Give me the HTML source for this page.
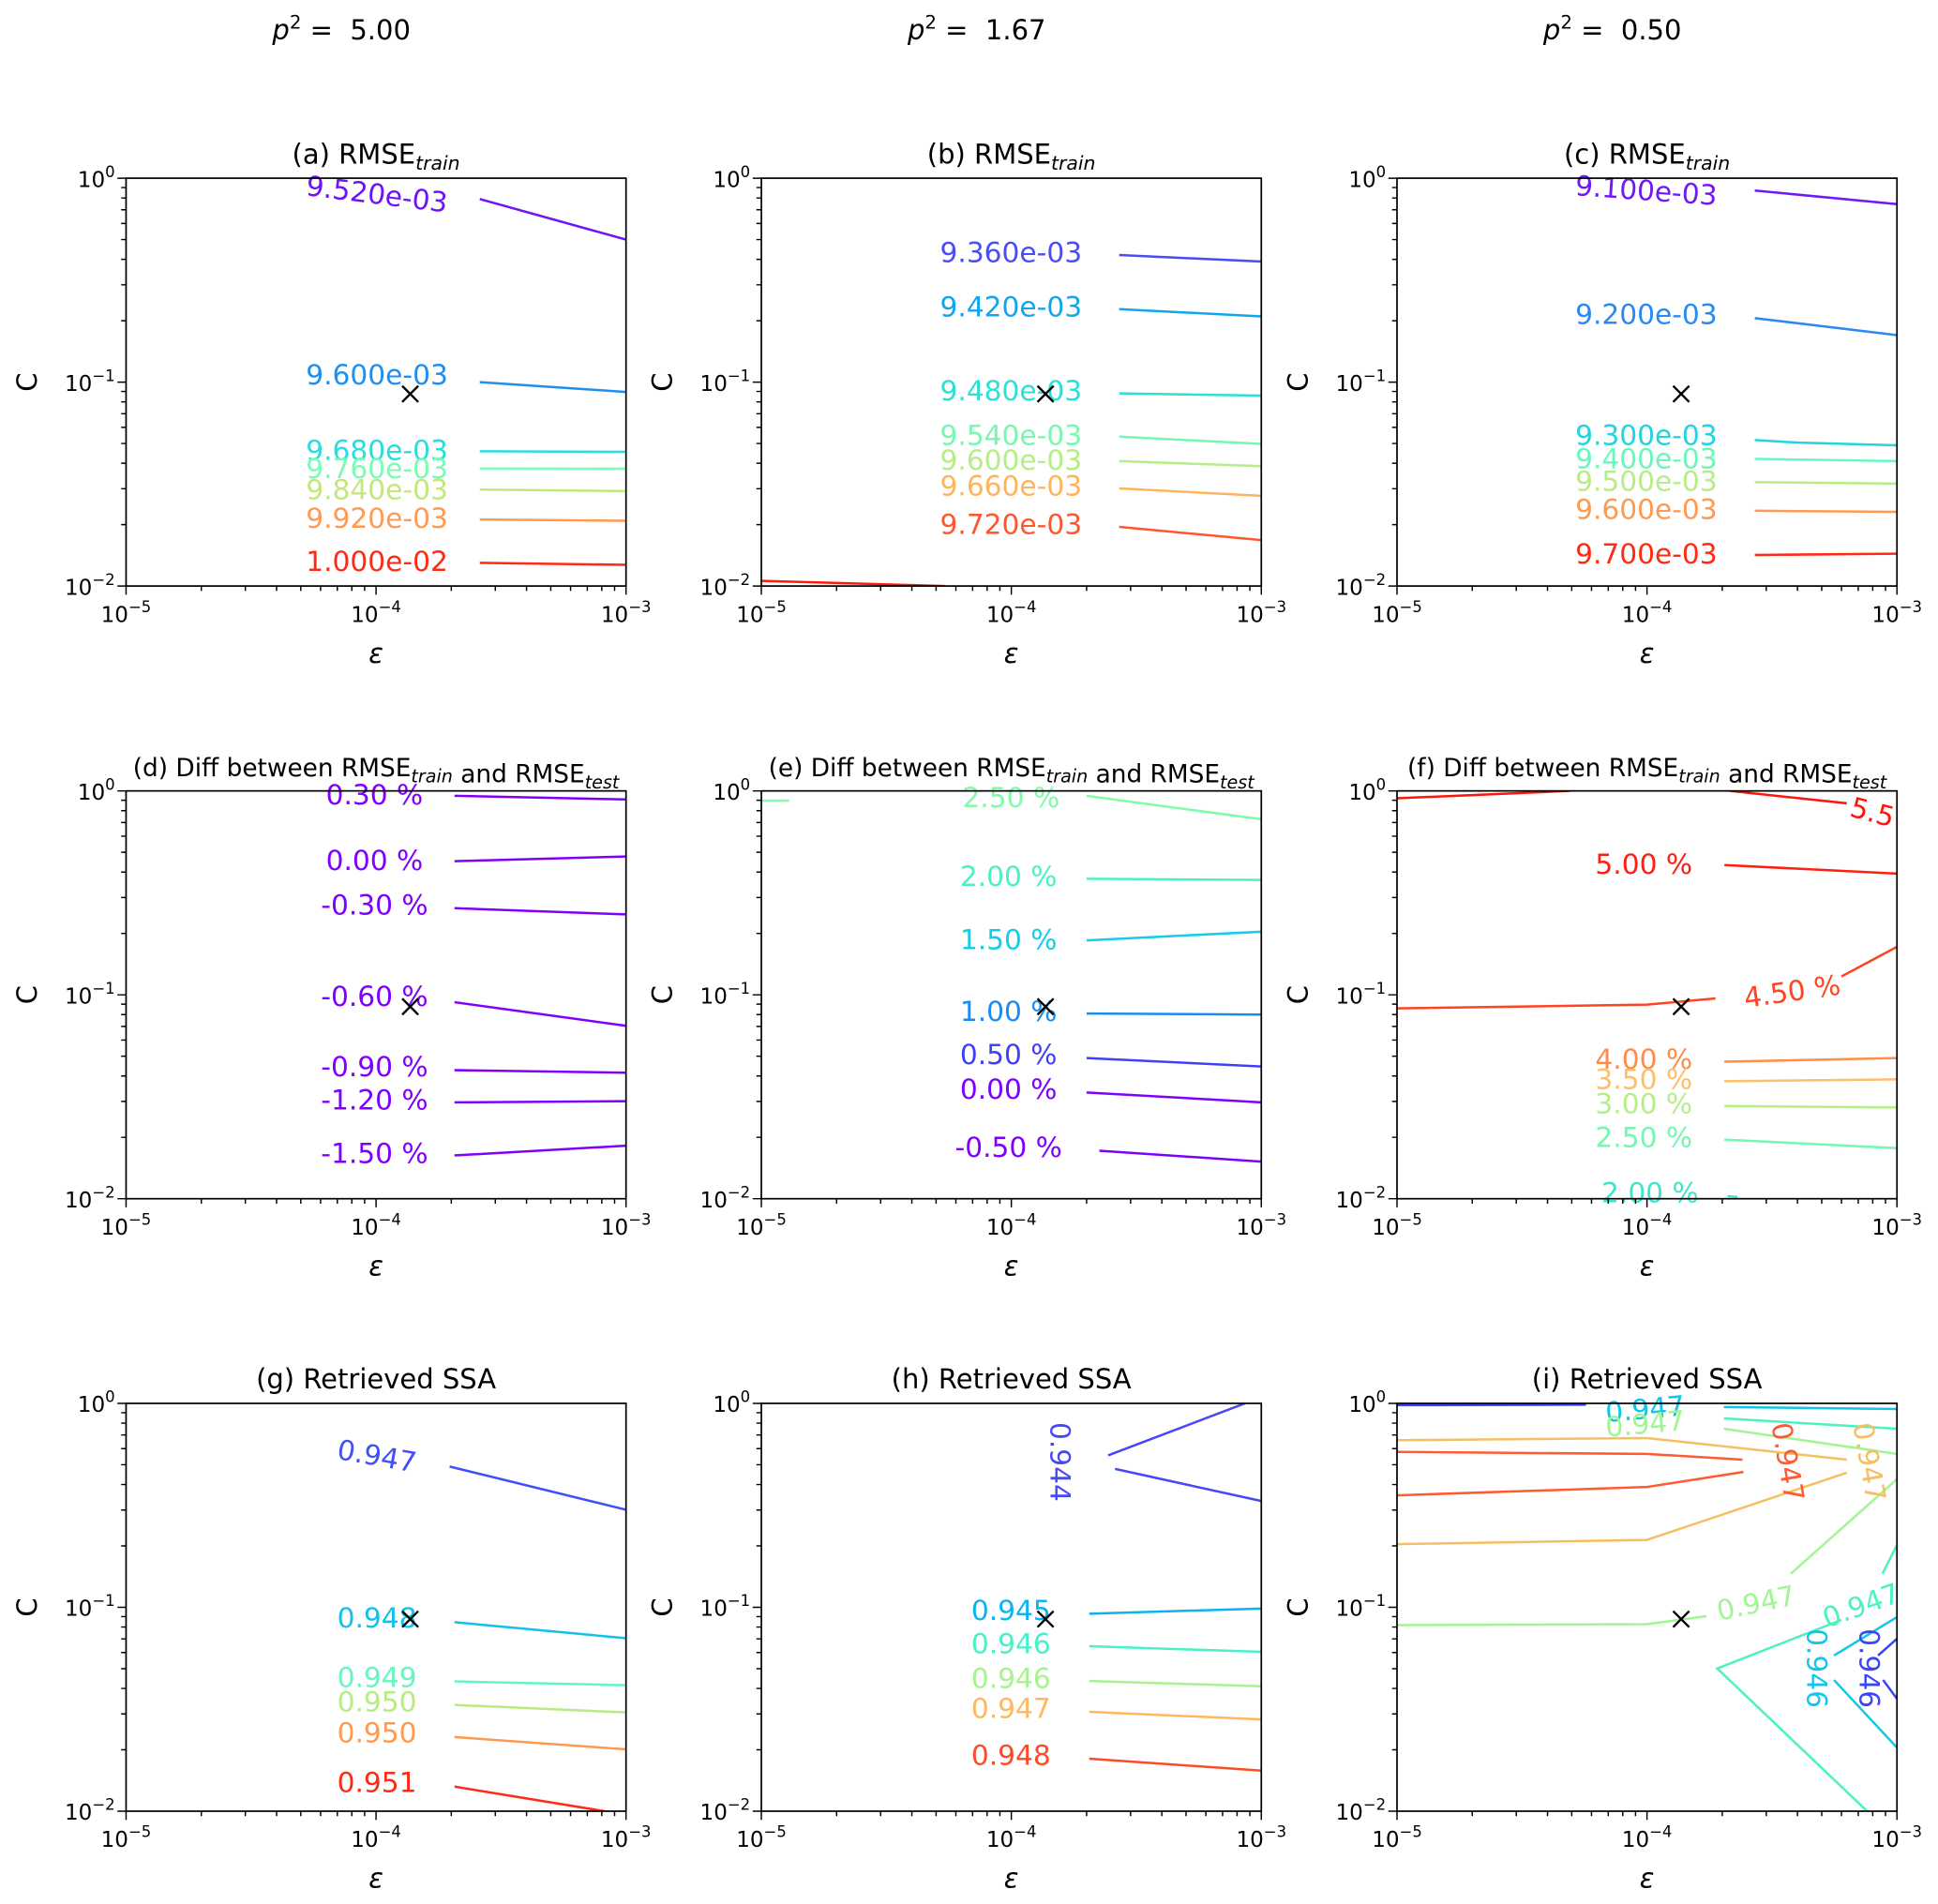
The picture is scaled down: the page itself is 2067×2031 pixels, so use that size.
<!DOCTYPE html>
<html><head><meta charset="utf-8"><style>
html,body{margin:0;padding:0;background:#fff;}
svg{display:block;font-family:"DejaVu Sans","Liberation Sans",sans-serif;}
</style></head><body>
<svg id="fig" width="2067" height="2031" viewBox="0 0 1568 1540.7" xmlns="http://www.w3.org/2000/svg"></svg>
<script>
// ---------- data ----------
const markerEps = 1.37e-4;
const markerC = 0.0875;
const colHeaders = ["5.00","1.67","0.50"];
const xTickExps = [-5,-4,-3];
const yTickExps = [0,-1,-2];

const aEps=[[2.6e-4,1e-3],[2.6e-4,1e-3],[2.6e-4,1e-3],[2.6e-4,1e-3],[2.6e-4,1e-3],[2.6e-4,1e-3],[2.6e-4,1e-3]];
const aC=[[0.79,0.50],[0.10,0.0895],[0.0458,0.0455],[0.0377,0.0376],[0.0297,0.0292],[0.0212,0.0209],[0.0130,0.0127]];
const aLabels=["9.520e-03","9.600e-03","9.680e-03","9.760e-03","9.840e-03","9.920e-03","1.000e-02"];

const bEps=[[2.7e-4,1e-3],[2.7e-4,1e-3],[2.7e-4,1e-3],[2.7e-4,1e-3],[2.7e-4,1e-3],[2.7e-4,1e-3],[2.7e-4,1e-3],[1e-5,5.4e-5]];
const bC=[[0.42,0.39],[0.228,0.21],[0.088,0.0858],[0.054,0.0498],[0.041,0.0387],[0.0301,0.0277],[0.0195,0.0168],[0.0106,0.01]];
const bLabels=["9.360e-03","9.420e-03","9.480e-03","9.540e-03","9.600e-03","9.660e-03","9.720e-03"];

const cEps=[[2.7e-4,1e-3],[2.7e-4,1e-3],[2.7e-4,4e-4,1e-3],[2.7e-4,1e-3],[2.7e-4,1e-3],[2.7e-4,1e-3],[2.7e-4,1e-3]];
const cC=[[0.87,0.746],[0.206,0.17],[0.052,0.0505,0.049],[0.042,0.041],[0.0323,0.0318],[0.0234,0.0231],[0.0142,0.0144]];
const cLabels=["9.100e-03","9.200e-03","9.300e-03","9.400e-03","9.500e-03","9.600e-03","9.700e-03"];

const dEps=[[2.06e-4,1e-3],[2.06e-4,1e-3],[2.06e-4,1e-3],[2.06e-4,1e-3],[2.06e-4,1e-3],[2.06e-4,1e-3],[2.06e-4,1e-3]];
const dC=[[0.946,0.908],[0.452,0.477],[0.266,0.248],[0.092,0.0705],[0.0427,0.0415],[0.0297,0.0301],[0.0163,0.0182]];
const dLabels=["0.30 %","0.00 %","-0.30 %","-0.60 %","-0.90 %","-1.20 %","-1.50 %"];

const eEps=[[1e-5,1.29e-5],[2.0e-4,1e-3],[2.0e-4,1e-3],[2.0e-4,1e-3],[2.0e-4,1e-3],[2.0e-4,1e-3],[2.0e-4,1e-3],[2.25e-4,1e-3]];
const eC=[[0.895,0.895],[0.946,0.726],[0.371,0.366],[0.185,0.204],[0.081,0.08],[0.049,0.0445],[0.0332,0.0297],[0.0172,0.0152]];
const eLabels=["2.50 %","2.00 %","1.50 %","1.00 %","0.50 %","0.00 %","-0.50 %"];

const fEps=[[1e-5,4.9e-5],[2.15e-4,6.3e-4],[2.04e-4,1e-3],[1e-5,1e-4,1.88e-4],[6.0e-4,1e-3],[2.04e-4,1e-3],[2.04e-4,1e-3],[2.04e-4,1e-3],[2.04e-4,1e-3],[2.1e-4,2.3e-4]];
const fC=[[0.92,1.0],[1.0,0.87],[0.433,0.393],[0.0858,0.0895,0.096],[0.123,0.172],[0.047,0.049],[0.0377,0.0385],[0.0285,0.028],[0.0195,0.0177],[0.0103,0.0102]];
const fLabels=["5.5","5.00 %","4.50 %","4.00 %","3.50 %","3.00 %","2.50 %","2.00 %"];

const gEps=[[1.97e-4,1e-3],[2.06e-4,1e-3],[2.06e-4,1e-3],[2.06e-4,1e-3],[2.06e-4,1e-3],[2.06e-4,8.2e-4]];
const gC=[[0.49,0.301],[0.0845,0.0705],[0.0433,0.0415],[0.0332,0.0305],[0.0231,0.0201],[0.0132,0.01]];
const gLabels=["0.947","0.948","0.949","0.950","0.950","0.951"];

const hEps=[[2.44e-4,8.6e-4],[2.6e-4,1e-3],[2.05e-4,1e-3],[2.05e-4,1e-3],[2.05e-4,1e-3],[2.05e-4,1e-3],[2.05e-4,1e-3]];
const hC=[[0.556,1.0],[0.477,0.332],[0.093,0.0986],[0.0644,0.0605],[0.0435,0.041],[0.0307,0.0282],[0.0181,0.0158]];
const hLabels=["0.944","0.945","0.946","0.946","0.947","0.948"];

const iEps=[[1e-5,5.7e-5],[2.03e-4,1e-3],[2.03e-4,1e-3],[2.03e-4,1e-3],[1e-5,1e-4,6.3e-4],[1e-5,1e-4,2.41e-4],[1e-5,1e-4,2.43e-4],[1e-5,1e-4,6.3e-4],[3.76e-4,1e-3],[8.75e-4,1e-3],[1e-5,1e-4,1.73e-4],[6.0e-4,1.91e-4,7.6e-4],[5.6e-4,1e-3],[5.6e-4,1e-3],[8.4e-4,1e-3],[8.8e-4,1e-3]];
const iC=[[0.98,0.985],[0.96,0.938],[0.844,0.751],[0.751,0.565],[0.66,0.676,0.53],[0.578,0.565,0.53],[0.354,0.389,0.461],[0.204,0.214,0.457],[0.146,0.425],[0.146,0.202],[0.0818,0.0826,0.0904],[0.0867,0.0501,0.01],[0.058,0.0895],[0.044,0.0205],[0.058,0.0701],[0.044,0.0356]];
const iLabels=["0.947","0.947","0.947","0.947","0.947","0.947","0.946","0.946"];

// ---------- styles / layout ----------
const colLeft=[102,616,1130.3], rowTop=[144.2,640,1135.6], W=404.5, H=330;
const PUR="#7f00ff";
const panels=[
 {id:"a",col:0,row:0,eps:aEps,C:aC,colors:["#6f12f9","#1f8ef1","#2bdcdc","#7cfbb2","#c4e77c","#ff9a52","#ff2a15"],
  labels:aLabels,lpos:[[305,157,7],[305,303,0],[305,364,0],[305,379,0],[305,396,0],[305,419,0],[305,454,0]],lcol:null,
  title:["(a) RMSE","train",""]},
 {id:"b",col:1,row:0,eps:bEps,C:bC,colors:["#4a4cf6","#0fa6ee","#2ce0d6","#76f8b0","#b4ee84","#ffb45c","#ff5630","#ff1a0d"],
  labels:bLabels,lpos:[[818,204,0],[818,248,0],[818,316,0],[818,352,0],[818,372,0],[818,393,0],[818,424,0]],lcol:null,
  title:["(b) RMSE","train",""]},
 {id:"c",col:2,row:0,eps:cEps,C:cC,colors:["#7018f9","#2a8af3","#22d3e0","#6af7bc","#b8ec86","#ff9a52","#ff2a15"],
  labels:cLabels,lpos:[[1332,154,4],[1332,254,0],[1332,352,0],[1332,371,0],[1332,389,0],[1332,412,0],[1332,448,0]],lcol:null,
  title:["(c) RMSE","train",""]},
 {id:"d",col:0,row:1,eps:dEps,C:dC,colors:[PUR,PUR,PUR,PUR,PUR,PUR,PUR],
  labels:dLabels,lpos:[[303,643,0],[303,696,0],[303,732,0],[303,806,0],[303,863,0],[303,890,0],[303,933,0]],lcol:null,
  title:["(d) Diff between RMSE","train"," and RMSE","test"]},
 {id:"e",col:1,row:1,eps:eEps,C:eC,colors:["#80fca8","#80fca8","#4cf0c4","#14cdea","#1a8cf0","#4040f8","#8000ff","#8000ff"],
  labels:eLabels,lpos:[[818,645,0],[816,709,0],[816,760,0],[816,818,0],[816,853,0],[816,881,0],[816,928,0]],
  lcol:["#80fca8","#4cf0c4","#14cdea","#1a8cf0","#4040f8","#8000ff","#8000ff"],
  title:["(e) Diff between RMSE","train"," and RMSE","test"]},
 {id:"f",col:2,row:1,eps:fEps,C:fC,colors:["#ff140a","#ff140a","#ff1e10","#ff4422","#ff4422","#ff8c48","#ffbf66","#b6ef86","#72f8b0","#3fe6cc"],
  labels:fLabels,lpos:[[1515,657,15],[1330,699,0],[1450,802,-8],[1330,857,0],[1330,873,0],[1330,893,0],[1330,920,0],[1335,965,0]],
  lcol:["#ff140a","#ff1e10","#ff4422","#ff8c48","#ffbf66","#b6ef86","#72f8b0","#3fe6cc"],
  title:["(f) Diff between RMSE","train"," and RMSE","test"]},
 {id:"g",col:0,row:2,eps:gEps,C:gC,colors:["#4050f6","#10c2ea","#66f7bf","#b8eb80","#ff9a50","#ff2a15"],
  labels:gLabels,lpos:[[305,1178,10],[305,1309,0],[305,1357,0],[305,1377,0],[305,1402,0],[305,1442,0]],lcol:null,
  title:["(g) Retrieved SSA"]},
 {id:"h",col:1,row:2,eps:hEps,C:hC,colors:["#4448f6","#4448f6","#0ab4f0","#48f0c8","#a8f290","#ffb860","#ff4a28"],
  labels:hLabels,lpos:[[858,1183,90],[818,1303,0],[818,1330,0],[818,1358,0],[818,1382,0],[818,1420,0]],
  lcol:["#4448f6","#0ab4f0","#48f0c8","#a8f290","#ffb860","#ff4a28"],
  title:["(h) Retrieved SSA"]},
 {id:"i",col:2,row:2,eps:iEps,C:iC,colors:["#3a44f8","#12c6e8","#4cf2c4","#a2f594","#f4c062","#ff5a30","#ff5a30","#f4c062","#a2f594","#4cf2c4","#a2f594","#4cf2c4","#12c6e8","#12c6e8","#3a44f8","#3a44f8"],
  labels:iLabels,lpos:[[1331,1140,-5],[1331,1152,-5],[1446.6,1183,80],[1512.6,1183,80],[1420.8,1297,-12],[1505.8,1299,-20],[1470,1350,90],[1512.6,1350,90]],
  lcol:["#12c6e8","#a2f594","#ff5a30","#f4c062","#a2f594","#4cf2c4","#12c6e8","#3a44f8"],
  title:["(i) Retrieved SSA"]}
];

const NS="http://www.w3.org/2000/svg";
const svg=document.getElementById("fig");
function mk(tag,attrs,parent){const e=document.createElementNS(NS,tag);for(const k in attrs)e.setAttribute(k,attrs[k]);(parent||svg).appendChild(e);return e;}
function xs(p,eps){return colLeft[p.col]+(Math.log10(eps)+5)/2*W;}
function ys(p,C){return rowTop[p.row]+(-Math.log10(C))/2*H;}

// column headers
colHeaders.forEach((v,i)=>{
  const t=mk("text",{x:colLeft[i]+W/2-28,y:32,"text-anchor":"middle","font-size":22,fill:"#000"});
  
  
  t.innerHTML='<tspan font-style="italic">p</tspan><tspan dy="-9" font-size="15">2</tspan><tspan dy="9">\u00a0=\u00a0\u00a0'+v+'</tspan>';
});

panels.forEach(p=>{
  const L=colLeft[p.col],T=rowTop[p.row];
  const g=mk("g",{});
  
  
  const cp=mk("clipPath",{id:"clip-"+p.id},g);
  mk("rect",{x:L,y:T,width:W,height:H},cp);
  // title
  const long=p.title.length>3;
  const tt=mk("text",{x:L+W/2,y:T-12,"text-anchor":"middle","font-size":long?20:22,fill:"#000"},g);
  
  
  let h='';
  p.title.forEach((s,k)=>{ if(k%2===0) h+='<tspan>'+s.replace(/ /g,'\u00a0')+'</tspan>'; else h+='<tspan dy="5" font-size="'+(long?14.5:15.5)+'" font-style="italic">'+s+'</tspan><tspan dy="-5"></tspan>'; });
  tt.innerHTML=h;
  // contour lines
  const lg=mk("g",{"clip-path":"url(#clip-"+p.id+")"},g);
  p.eps.forEach((ev,k)=>{
    const pts=ev.map((e,j)=>xs(p,e).toFixed(2)+","+ys(p,p.C[k][j]).toFixed(2)).join(" ");
    const pl=mk("polyline",{points:pts,fill:"none",stroke:p.colors[k],"stroke-width":1.9},lg);
    
    
  });
  // contour labels
  const lcol=p.lcol||p.colors;
  p.labels.forEach((s,k)=>{
    const [lx,ly,r]=p.lpos[k];
    const t=mk("text",{x:lx,y:ly,"text-anchor":"middle","dominant-baseline":"central","font-size":22.5,fill:lcol[k],transform:"rotate("+r+" "+lx+" "+ly+")"},g);
    
    
    t.textContent=s.replace(/ /g,'\u00a0');
  });
  // marker
  const mx=xs(p,markerEps),my=ys(p,markerC),d=6.5;
  const m=mk("path",{d:`M${mx-d},${my-d}L${mx+d},${my+d}M${mx-d},${my+d}L${mx+d},${my-d}`,stroke:"#000","stroke-width":1.8,fill:"none"},g);
  
  
  // axes frame
  const fr=mk("rect",{x:L,y:T,width:W,height:H,fill:"none",stroke:"#000","stroke-width":1.3},g);
  
  
  // ticks
  let td='';
  for(let e=-5;e<=-3;e++){
    const x=xs(p,Math.pow(10,e)); td+=`M${x},${T+H}v7`;
    if(e<-3) for(let m2=2;m2<=9;m2++){const xx=xs(p,m2*Math.pow(10,e)); td+=`M${xx},${T+H}v4`;}
  }
  for(let e=-2;e<=0;e++){
    const y=ys(p,Math.pow(10,e)); td+=`M${L},${y}h-7`;
    if(e<0) for(let m2=2;m2<=9;m2++){const yy=ys(p,m2*Math.pow(10,e)); td+=`M${L},${yy}h-4`;}
  }
  mk("path",{d:td,stroke:"#000","stroke-width":1.1,fill:"none"},g);
  xTickExps.forEach(e=>{
    const t=mk("text",{x:xs(p,Math.pow(10,e)),y:T+H+29,"text-anchor":"middle","font-size":17.5,fill:"#000"},g);
    
    
    t.innerHTML='10<tspan dy="-8" font-size="12.5">\u2212'+(-e)+'</tspan>';
  });
  yTickExps.forEach(e=>{
    const t=mk("text",{x:L-9,y:ys(p,Math.pow(10,e))+7,"text-anchor":"end","font-size":17.5,fill:"#000"},g);
    
    
    t.innerHTML='10<tspan dy="-8" font-size="12.5">'+(e===0?'0':'\u2212'+(-e))+'</tspan>';
  });
  const xl=mk("text",{x:L+W/2,y:T+H+62,"text-anchor":"middle","font-size":22,"font-style":"italic",fill:"#000"},g);
  
  
  xl.textContent='\u03B5';
  const yx=L-80,yy=T+H/2;
  const yl=mk("text",{x:yx,y:yy,"text-anchor":"middle","dominant-baseline":"central","font-size":22,fill:"#000",transform:`rotate(-90 ${yx} ${yy})`},g);
  
  
  yl.textContent='C';
});
</script>
</body></html>
